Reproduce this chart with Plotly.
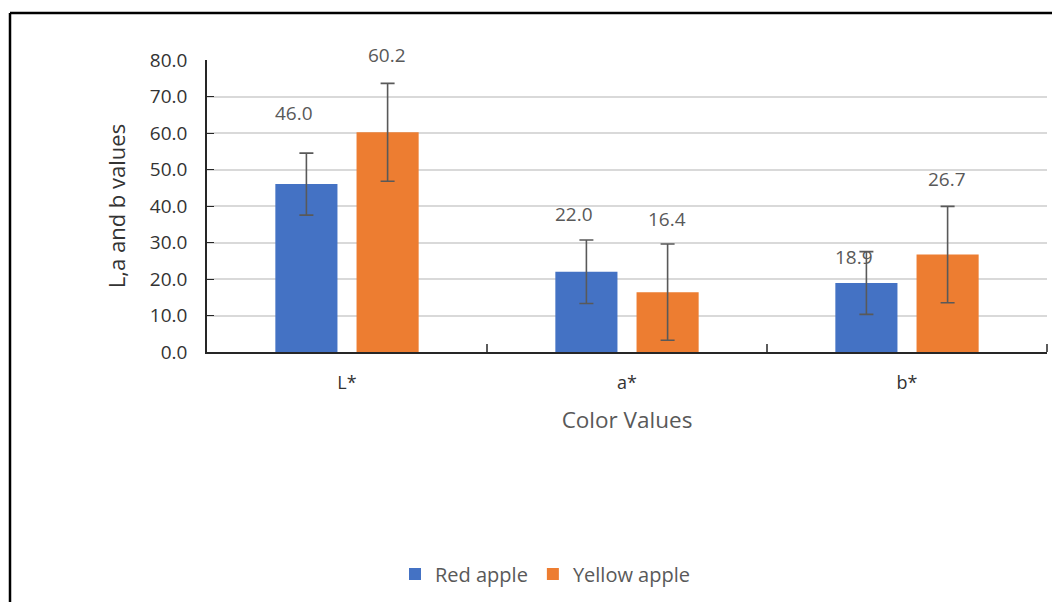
import plotly.graph_objects as go

categories = ["L*", "a*", "b*"]
red_values = [46.0, 22.0, 18.9]
yellow_values = [60.2, 16.4, 26.7]
red_err = [8.5, 8.7, 8.6]
yellow_err = [13.4, 13.2, 13.2]
y_ticks = [0, 10, 20, 30, 40, 50, 60, 70, 80]

# manually placed data-label heights (in axis units), as in the original
red_label_y = [65.4, 37.9, 25.9]
yellow_label_y = [81.3, 36.4, 47.5]

W, H = 1060, 602
# page shows figure offset by 8px body margin
L, T = 199, 52
PR, PB = 1039, 344
R, B = W - PR, H - PB
pw, ph = PR - L, PB - T
YMAX = 80

font = "Open Sans"
grey = "#595959"
dark = "#333333"

fig = go.Figure()
fig.add_trace(go.Bar(
    name="Red apple", x=categories, y=red_values,
    marker=dict(color="#4472C4", line=dict(width=0)),
    error_y=dict(type="data", array=red_err, color="#595959", thickness=1.6, width=7),
))
fig.add_trace(go.Bar(
    name="Yellow apple", x=categories, y=yellow_values,
    marker=dict(color="#ED7D31", line=dict(width=0)),
    error_y=dict(type="data", array=yellow_err, color="#595959", thickness=1.6, width=7),
))

# data labels
for i, c in enumerate(categories):
    fig.add_annotation(x=c, xref="x", yref="paper", y=red_label_y[i] / YMAX, yanchor="middle",
                       text=f"{red_values[i]:.1f}", showarrow=False, xshift=-53,
                       font=dict(family=font, size=19, color=grey))
    fig.add_annotation(x=c, xref="x", yref="paper", y=yellow_label_y[i] / YMAX, yanchor="middle",
                       text=f"{yellow_values[i]:.1f}", showarrow=False, xshift=40,
                       font=dict(family=font, size=19, color=grey))

# outer frame (top and left edges)
fy = (PB - 5) / ph
fx = (2 - L) / pw
fig.add_shape(type="line", xref="paper", yref="paper",
              x0=fx, x1=(W - L) / pw, y0=fy, y1=fy,
              line=dict(color="black", width=2.5))
fig.add_shape(type="line", xref="paper", yref="paper",
              x0=fx, x1=fx, y0=fy, y1=-(B + 10) / ph,
              line=dict(color="black", width=2.5))

fig.update_layout(
    width=W, height=H,
    margin=dict(l=L, r=R, t=T, b=B),
    paper_bgcolor="white", plot_bgcolor="white",
    barmode="group", bargap=0.42, bargroupgap=0.235,
    font=dict(family=font, color=grey, size=18),
    showlegend=True,
    legend=dict(orientation="h", x=(537 - L) / pw, xanchor="center",
                y=-(566 - PB) / ph, yanchor="middle",
                font=dict(family=font, size=20, color=grey),
                traceorder="normal"),
    xaxis=dict(
        showline=True, linecolor="#262626", linewidth=1.5,
        ticks="", ticklabelstandoff=14,
        tickfont=dict(family=font, size=18, color=dark),
        title=dict(text="Color Values", font=dict(family=font, size=22.5, color=grey), standoff=19),
    ),
    yaxis=dict(
        range=[0, YMAX], tickvals=y_ticks, ticktext=[f"{v:.1f}" for v in y_ticks],
        showline=True, linecolor="#262626", linewidth=1.5,
        ticks="inside", ticklen=7, tickcolor="#262626",
        showgrid=True, gridcolor="#D9D9D9", gridwidth=1.5,
        ticklabelstandoff=14,
        tickfont=dict(family=font, size=19, color=dark),
        zeroline=False,
        title=dict(text="L,a and b values", font=dict(family=font, size=22, color=dark), standoff=18),
    ),
)

# category separator ticks on the x-axis
for k in range(1, 4):
    fig.add_shape(type="line", xref="paper", yref="paper",
                  x0=k / 3, x1=k / 3, y0=0, y1=8 / ph,
                  line=dict(color="#262626", width=1.5))

fig.write_html("out.html")
